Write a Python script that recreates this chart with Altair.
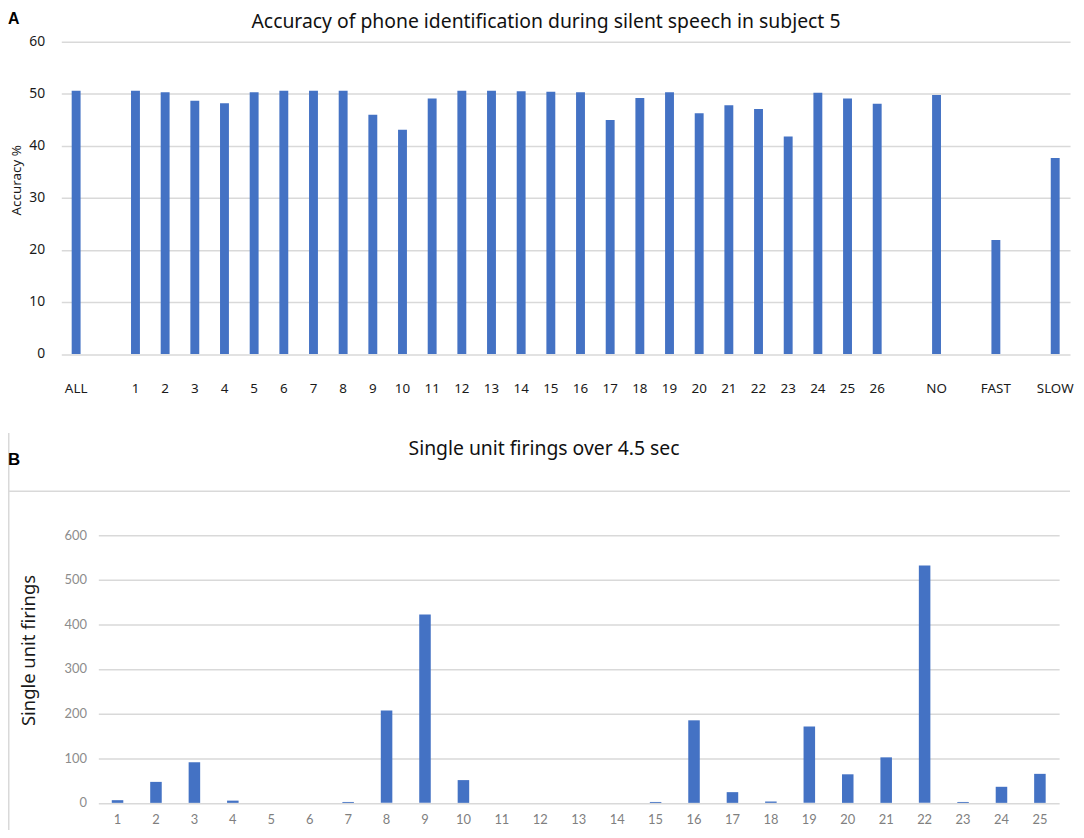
import altair as alt
import pandas as pd

# ---------------- data ----------------
top_domain = ["ALL", "gap1"] + [str(i) for i in range(1, 27)] + ["gap2", "NO", "gap3", "FAST", "gap4", "SLOW"]
top_categories = ["ALL"] + [str(i) for i in range(1, 27)] + ["NO", "FAST", "SLOW"]
top_accuracy = [50.6, 50.6, 50.3, 48.7, 48.2, 50.3, 50.6, 50.6, 50.6, 46.0,
                43.1, 49.1, 50.6, 50.6, 50.5, 50.4, 50.3, 45.0, 49.2, 50.3,
                46.3, 47.8, 47.1, 41.8, 50.2, 49.1, 48.1, 49.8, 21.9, 37.7]
top_ticks = [0, 10, 20, 30, 40, 50, 60]

bottom_units = [str(i) for i in range(1, 26)]
bottom_firings = [6, 47, 91, 5, 0, 0, 2, 207, 422, 51, 0, 0, 0, 0, 2,
                  185, 24, 3, 171, 64, 102, 532, 2, 36, 65]
bottom_ticks = [0, 100, 200, 300, 400, 500, 600]

top_title = "Accuracy of phone identification during silent speech in subject 5"
bottom_title = "Single unit firings over 4.5 sec"

top_df = pd.DataFrame({"cat": top_categories, "acc": top_accuracy})
bottom_df = pd.DataFrame({"unit": bottom_units, "firings": bottom_firings})

BLUE = "#4472C4"
GRID = "#d9d9d9"
FONT = "Noto Sans"

W, H = 1076, 830

# ---------------- panel A ----------------
top_bars = alt.Chart(top_df).mark_bar(color=BLUE).encode(
    x=alt.X("cat:N", sort=top_domain,
            scale=alt.Scale(domain=top_domain, range=[53.7, 1070], paddingInner=0.7, paddingOuter=0.35),
            axis=alt.Axis(orient="bottom", offset=-484.5, labelPadding=28, ticks=False, domain=False,
                          grid=False, labelAngle=0, title=None, labelOverlap=False,
                          labelExpr="indexof(datum.value, 'gap') == 0 ? '' : datum.label",
                          labelFont=FONT, labelFontSize=13.5, labelColor="#1a1a1a")),
    y=alt.Y("acc:Q",
            scale=alt.Scale(domain=[0, 60], range=[345.5, 31], nice=False),
            axis=alt.Axis(orient="left", offset=-40, values=top_ticks, labelPadding=3, ticks=False,
                          domain=False, grid=True, gridColor=GRID, gridWidth=1.5,
                          labelFont=FONT, labelFontSize=14, labelColor="#1a1a1a",
                          title="Accuracy %", titleX=-31, titleY=170, titleAngle=-90,
                          titleAlign="center", titleBaseline="middle",
                          titleFont=FONT, titleFontSize=13.5, titleFontWeight="normal",
                          titleColor="#1a1a1a")),
)

# ---------------- panel B ----------------
bottom_bars = alt.Chart(bottom_df).mark_bar(color=BLUE).encode(
    x=alt.X("unit:N", sort=bottom_units,
            scale=alt.Scale(domain=bottom_units, range=[91, 1059], paddingInner=0.7, paddingOuter=0.35),
            axis=alt.Axis(orient="bottom", offset=-32.3, labelPadding=11, ticks=False, domain=False,
                          grid=False, labelAngle=0, title=None, labelOverlap=False,
                          labelFont="Lato", labelFontSize=13, labelColor="#7f7f7f")),
    y=alt.Y("firings:Q",
            scale=alt.Scale(domain=[0, 600], range=[797.7, 528], nice=False),
            axis=alt.Axis(orient="left", offset=-82, values=bottom_ticks, labelPadding=3, ticks=False,
                          domain=False, grid=True, gridColor=GRID, gridWidth=1.5,
                          labelFont="Lato", labelFontSize=13, labelColor="#8c8c8c",
                          title="Single unit firings", titleX=-61.4, titleY=643.7, titleAngle=-90,
                          titleAlign="center", titleBaseline="middle",
                          titleFont=FONT, titleFontSize=18.5, titleFontWeight="normal",
                          titleColor="#1a1a1a")),
)

# ---------------- annotations ----------------
one = pd.DataFrame({"k": [0]})

title_a = alt.Chart(pd.DataFrame({"t": [top_title]})).mark_text(
    font=FONT, fontSize=19.5, color="#111111", align="center", baseline="alphabetic"
).encode(text="t:N", x=alt.value(542), y=alt.value(17))

title_b = alt.Chart(pd.DataFrame({"t": [bottom_title]})).mark_text(
    font=FONT, fontSize=19.5, color="#111111", align="center", baseline="alphabetic"
).encode(text="t:N", x=alt.value(540), y=alt.value(447))

label_a = alt.Chart(pd.DataFrame({"t": ["A"]})).mark_text(
    font="Liberation Sans", fontSize=16, fontWeight="bold", color="#000000",
    align="left", baseline="alphabetic"
).encode(text="t:N", x=alt.value(0), y=alt.value(13))

label_b = alt.Chart(pd.DataFrame({"t": ["B"]})).mark_text(
    font="Liberation Sans", fontSize=17, fontWeight="bold", color="#000000",
    align="left", baseline="alphabetic"
).encode(text="t:N", x=alt.value(0), y=alt.value(457))

frame_h = alt.Chart(one).mark_rule(color=GRID, strokeWidth=1.5).encode(
    x=alt.value(0), x2=alt.value(1070), y=alt.value(483.7))
frame_v = alt.Chart(one).mark_rule(color=GRID, strokeWidth=1.5).encode(
    x=alt.value(0.75), y=alt.value(425), y2=alt.value(825))

chart = alt.layer(
    top_bars, bottom_bars, frame_h, frame_v, title_a, title_b, label_a, label_b
).resolve_scale(
    x="independent", y="independent"
).properties(
    width=W, height=H,
    autosize=alt.AutoSizeParams(type="none"),
    padding={"left": 0, "top": 0, "right": 0, "bottom": 0},
    background="white",
).configure_view(stroke=None)

chart.save("out.html", embed_options={"renderer": "svg", "actions": False})
